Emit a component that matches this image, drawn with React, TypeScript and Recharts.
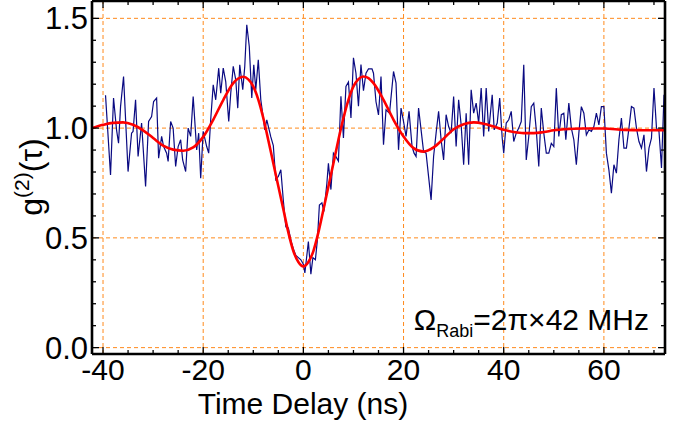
import React from "react";
import { LineChart, Line, XAxis, YAxis, ReferenceLine } from "recharts";

const TAU_DATA = [
  -39.5, -38.5, -37.9, -37.3, -36.9, -36.5, -35.9, -35.0, -34.3, -34.0, -33.5, -33.0, -32.3, -31.5,
  -30.9, -30.3, -29.9, -29.3, -28.9, -28.3, -27.9, -27.3, -27.0, -26.5, -26.0, -25.5, -25.0, -24.5,
  -24.1, -23.5, -23.0, -22.5, -22.0, -21.3, -20.9, -20.5, -20.0, -19.3, -18.9, -18.5, -18.0, -17.5,
  -16.9, -16.5, -16.0, -15.5, -14.9, -14.5, -14.0, -13.5, -13.1, -12.7, -12.1, -11.7, -11.3, -10.8,
  -10.3, -9.9, -9.5, -9.0, -8.5, -8.0, -7.7, -7.3, -6.5, -6.0, -5.5, -5.0, -4.5, -4.0, -3.5, -3.0,
  -2.5, -2.0, -1.5, -1.0, -0.5, 0.0, 0.3, 1.0, 1.5, 1.9, 2.4, 2.8, 3.2, 3.7, 4.1, 4.7, 5.0, 5.5,
  6.0, 6.5, 7.0, 7.5, 8.0, 8.5, 9.0, 9.5, 10.0, 10.5, 11.0, 11.5, 12.0, 12.5, 13.0, 13.7, 14.0, 14.5,
  15.0, 15.5, 16.0, 16.5, 17.2, 18.0, 18.5, 19.0, 19.5, 20.0, 20.5, 21.1, 21.7, 22.1, 22.5, 23.0,
  23.5, 24.0, 24.5, 25.0, 25.5, 26.0, 26.5, 27.0, 27.5, 28.0, 28.5, 29.0, 29.5, 30.0, 30.5, 31.0,
  31.5, 32.0, 32.5, 33.0, 33.5, 34.0, 34.5, 35.0, 35.5, 36.0, 36.5, 37.0, 37.7, 38.1, 38.7, 39.2,
  39.7, 40.0, 40.5, 41.0, 41.5, 42.0, 42.5, 43.0, 43.5, 44.0, 44.5, 45.0, 45.5, 46.0, 46.5, 47.0,
  47.5, 48.0, 48.5, 49.0, 49.5, 50.0, 50.5, 51.0, 51.5, 52.0, 52.4, 53.0, 53.5, 54.0, 54.5, 55.0,
  55.5, 56.0, 56.5, 57.0, 57.5, 58.0, 58.5, 59.0, 59.5, 60.0, 60.5, 61.0, 61.5, 62.0, 62.5, 63.0,
  63.5, 64.0, 64.5, 65.0, 65.5, 66.0, 66.5, 67.0, 67.5, 68.0, 68.5, 69.0, 69.5, 70.0, 70.5, 71.0,
  71.5, 72.0,
];
const G2_DATA = [
  1.15, 0.787, 1.137, 0.992, 0.931, 1.098, 1.235, 0.802, 0.977, 0.985, 1.129, 0.871, 1.023, 0.734,
  1.03, 1.053, 1.121, 1.137, 0.863, 0.962, 0.916, 0.886, 0.848, 1.03, 1.0, 0.825, 0.916, 0.947,
  0.855, 0.802, 1.0, 0.962, 1.144, 0.901, 0.977, 0.772, 0.985, 0.916, 0.886, 1.038, 1.197, 1.129,
  1.273, 1.159, 1.273, 1.212, 1.03, 1.159, 1.281, 1.22, 1.091, 1.288, 1.175, 1.281, 1.471, 1.372,
  1.137, 1.288, 1.175, 1.311, 1.129, 1.046, 0.992, 1.038, 0.96, 0.92, 0.765, 0.78, 0.81, 0.67, 0.55, 0.545,
  0.49, 0.45, 0.42, 0.41, 0.4, 0.38, 0.34, 0.483, 0.335, 0.41, 0.4, 0.49, 0.65, 0.66, 0.62, 0.75, 0.84, 0.72,
  0.886, 0.87, 0.85, 1.145, 0.955, 1.19, 1.21, 1.046, 1.32, 1.25, 1.1, 1.29, 1.17, 1.25, 1.27, 1.27, 1.25, 1.12,
  1.06, 1.235, 0.924, 1.083, 1.068, 1.258, 1.205, 0.901, 1.091, 1.03, 0.962, 1.076, 0.916, 0.886, 0.871, 1.091,
  0.992, 0.893, 0.886, 0.779, 0.673, 0.871, 0.977, 1.076, 0.947, 0.855, 1.061, 1.007, 0.977, 1.144, 0.916, 1.129,
  1.015, 0.833, 1.068, 0.833, 1.175, 1.068, 1.114, 1.023, 1.182, 0.962, 1.182, 0.985, 1.152, 0.992, 1.023, 1.137,
  0.954, 0.886, 1.023, 1.038, 1.076, 0.939, 0.977, 1.0, 1.03, 1.289, 0.855, 0.962, 1.098, 1.114, 0.992, 0.825,
  1.091, 0.977, 0.886, 0.886, 0.931, 0.916, 1.182, 0.962, 1.061, 1.068, 0.947, 1.114, 1.0, 0.947, 0.833, 0.977,
  1.098, 1.068, 0.969, 0.992, 0.985, 1.007, 1.068, 1.015, 1.098, 1.098, 0.886, 0.81, 0.704, 0.833, 0.795, 0.947,
  1.046, 0.909, 0.909, 1.0, 1.098, 1.091, 1.0, 0.939, 0.909, 0.969, 0.802, 0.909, 0.954, 1.182, 1.0, 0.985,
  0.818, 1.152,
];

// fitted curve
const TAU_FIT = [
  -42.2, -40, -38, -36, -34, -32, -30, -28, -26, -24, -22, -20, -18, -16, -14, -13, -12, -11, -10,
  -9, -8, -7, -6, -5, -4, -3, -2, -1, 0, 1, 2, 3, 4, 5, 6, 7, 8, 9, 10, 11, 12, 13, 14, 16, 18, 20,
  22, 24, 26, 28, 30, 32, 34, 36, 38, 40, 42, 44, 46, 48, 50, 52, 56, 60, 64, 68, 72.2,
];
const G2_FIT = [
  1.0, 1.015, 1.024, 1.026, 1.015, 0.99, 0.955, 0.92, 0.902, 0.897, 0.912, 0.96, 1.038, 1.128, 1.205,
  1.226, 1.234, 1.222, 1.19, 1.13, 1.046, 0.945, 0.84, 0.735, 0.63, 0.525, 0.44, 0.39, 0.37, 0.39,
  0.44, 0.525, 0.628, 0.734, 0.84, 0.947, 1.046, 1.129, 1.19, 1.223, 1.235, 1.228, 1.205, 1.129, 1.038,
  0.962, 0.909, 0.893, 0.912, 0.952, 0.995, 1.018, 1.026, 1.02, 1.007, 0.992, 0.982, 0.977, 0.977,
  0.982, 0.99, 0.995, 0.998, 0.998, 0.992, 0.99, 0.99,
];

const X_TICKS = [-40, -35, -30, -25, -20, -15, -10, -5, 0, 5, 10, 15, 20, 25, 30, 35, 40, 45, 50, 55, 60, 65, 70];
const X_LABELS = [-40, -20, 0, 20, 40, 60];
const Y_TICKS = [0, 0.1, 0.2, 0.3, 0.4, 0.5, 0.6, 0.7, 0.8, 0.9, 1, 1.1, 1.2, 1.3, 1.4, 1.5];
const Y_LABELS = [0, 0.5, 1, 1.5];

const X_DOMAIN = [-42.2, 72.2];
const Y_DOMAIN = [-0.029, 1.579];

const FONT = "'Liberation Sans', Arial, sans-serif";
const GRID = "#FF8A1C";
const FS = 30;

const measured = TAU_DATA.map((t, i) => ({ t, g: G2_DATA[i] }));
const fit = TAU_FIT.map((t, i) => ({ t, g: G2_FIT[i] }));

const isMajor = (list: number[], v: number) => list.some((m) => Math.abs(m - v) < 1e-6);

function BottomTick({ x, y, payload }: any) {
  const major = isMajor(X_LABELS, payload.value);
  return (
    <g>
      <line x1={x} x2={x} y1={y} y2={y - (major ? 7 : 4)} stroke="#000" strokeWidth={1.3} />
      {major && (
        <text x={x} y={y + 26} textAnchor="middle" fontSize={FS} fontFamily={FONT} fill="#000">
          {payload.value}
        </text>
      )}
    </g>
  );
}

function TopTick({ x, y, payload }: any) {
  const major = isMajor(X_LABELS, payload.value);
  return <line x1={x} x2={x} y1={y} y2={y + (major ? 7 : 4)} stroke="#000" strokeWidth={1.3} />;
}

function LeftTick({ x, y, payload }: any) {
  const major = isMajor(Y_LABELS, payload.value);
  return (
    <g>
      <line x1={x} x2={x + (major ? 7 : 4)} y1={y} y2={y} stroke="#000" strokeWidth={1.3} />
      {major && (
        <text x={x - 4} y={y + 11} textAnchor="end" fontSize={31} fontFamily={FONT} fill="#000">
          {Number(payload.value).toFixed(1)}
        </text>
      )}
    </g>
  );
}

function RightTick({ x, y, payload }: any) {
  const major = isMajor(Y_LABELS, payload.value);
  return <line x1={x} x2={x - (major ? 7 : 4)} y1={y} y2={y} stroke="#000" strokeWidth={1.3} />;
}

const frame = { stroke: "#000", strokeWidth: 2.6 };

export default function App() {
  return (
    <div style={{ position: "absolute", left: 0, top: 0, width: 688, height: 427, background: "#fff" }}>
      <LineChart width={688} height={427} data={measured} margin={{ top: 0, right: 0, bottom: 0, left: 0 }}>
        <XAxis
          xAxisId="bottom"
          dataKey="t"
          type="number"
          domain={X_DOMAIN}
          allowDataOverflow
          ticks={X_TICKS}
          interval={0}
          height={73}
          tickSize={0}
          tickMargin={0}
          tickLine={false}
          axisLine={frame}
          tick={(p: any) => <BottomTick {...p} />}
        />
        <XAxis
          xAxisId="top"
          orientation="top"
          dataKey="t"
          type="number"
          domain={X_DOMAIN}
          allowDataOverflow
          ticks={X_TICKS}
          interval={0}
          height={1}
          tickSize={0}
          tickMargin={0}
          tickLine={false}
          axisLine={frame}
          tick={(p: any) => <TopTick {...p} />}
        />
        <YAxis
          yAxisId="left"
          type="number"
          domain={Y_DOMAIN}
          allowDataOverflow
          ticks={Y_TICKS}
          interval={0}
          width={92}
          tickSize={0}
          tickMargin={0}
          tickLine={false}
          axisLine={frame}
          tick={(p: any) => <LeftTick {...p} />}
        />
        <YAxis
          yAxisId="right"
          orientation="right"
          type="number"
          domain={Y_DOMAIN}
          allowDataOverflow
          ticks={Y_TICKS}
          interval={0}
          width={23}
          tickSize={0}
          tickMargin={0}
          tickLine={false}
          axisLine={frame}
          tick={(p: any) => <RightTick {...p} />}
        />
        {X_LABELS.map((v) => (
          <ReferenceLine
            key={`vx${v}`}
            xAxisId="bottom"
            yAxisId="left"
            x={v}
            stroke={GRID}
            strokeDasharray="4 3"
            strokeWidth={1}
          />
        ))}
        {Y_LABELS.map((v) => (
          <ReferenceLine
            key={`hy${v}`}
            xAxisId="bottom"
            yAxisId="left"
            y={v}
            stroke={GRID}
            strokeDasharray="4 3"
            strokeWidth={1}
          />
        ))}
        <Line
          xAxisId="bottom"
          yAxisId="left"
          data={measured}
          dataKey="g"
          type="linear"
          stroke="#0A0A82"
          strokeWidth={1.2}
          dot={false}
          isAnimationActive={false}
        />
        <Line
          xAxisId="top"
          yAxisId="right"
          data={fit}
          dataKey="g"
          type="monotone"
          stroke="#FF0000"
          strokeWidth={2.6}
          dot={false}
          isAnimationActive={false}
        />
      </LineChart>
      <svg
        width={688}
        height={427}
        style={{ position: "absolute", left: 0, top: 0, pointerEvents: "none" }}
      >
        <text x={303} y={414} textAnchor="middle" fontSize={FS} fontFamily={FONT} fill="#000">
          Time Delay (ns)
        </text>
        <text
          transform="translate(42,177) rotate(-90)"
          textAnchor="middle"
          fontSize={32}
          fontFamily={FONT}
          fill="#000"
        >
          g<tspan fontSize={21} dy={-13}>(2)</tspan>
          <tspan dy={13}>(τ)</tspan>
        </text>
        <text x={649} y={330} textAnchor="end" fontSize={30} fontFamily={FONT} fill="#000">
          Ω<tspan fontSize={18} dy={7}>Rabi</tspan>
          <tspan dy={-7}>=2π×42 MHz</tspan>
        </text>
      </svg>
    </div>
  );
}
